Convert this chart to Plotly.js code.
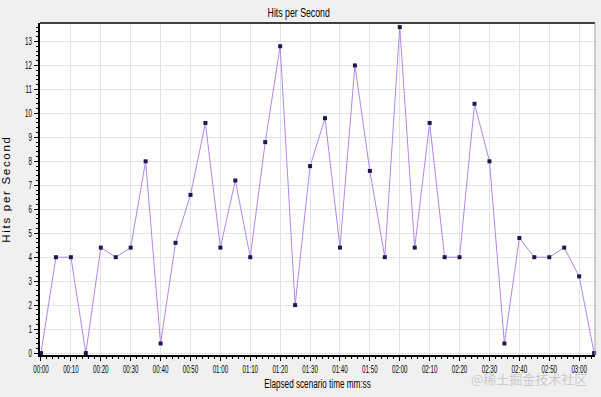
<!DOCTYPE html>
<html>
<head>
<meta charset="utf-8">
<script src="https://cdn.plot.ly/plotly-3.0.1.min.js"></script>
<style>
html,body{margin:0;padding:0;background:#f0f0f0;}
#chart{width:601px;height:397px;}
.ytitle{letter-spacing:1.7px;}
</style>
</head>
<body>
<div id="chart"></div>
<script>
// elapsed time in seconds
var elapsedSeconds = [0,5,10,15,20,25,30,35,40,45,50,55,60,65,70,75,80,85,90,95,100,105,110,115,120,125,130,135,140,145,150,155,160,165,170,175,180,185];
// hits per second
var hitsPerSecond = [0,4,4,0,4.4,4,4.4,8,0.4,4.6,6.6,9.6,4.4,7.2,4,8.8,12.8,2,7.8,9.8,4.4,12,7.6,4,13.6,4.4,9.6,4,4,10.4,8,0.4,4.8,4,4,4.4,3.2,0];
var tickSeconds = [0,10,20,30,40,50,60,70,80,90,100,110,120,130,140,150,160,170,180];
var tickLabels = ["00:00","00:10","00:20","00:30","00:40","00:50","01:00","01:10","01:20","01:30","01:40","01:50","02:00","02:10","02:20","02:30","02:40","02:50","03:00"];
var yTicks = [0,1,2,3,4,5,6,7,8,9,10,11,12,13];

var sansFont = '"Liberation Sans", Arial, sans-serif';

var trace = {
  x: elapsedSeconds,
  y: hitsPerSecond,
  type: 'scatter',
  mode: 'lines+markers',
  line: {color: '#b287e8', width: 1},
  marker: {symbol: 'square', size: 4, color: '#1c1a4a', line: {width: 0}},
  hoverinfo: 'x+y',
  cliponaxis: false
};

var layout = {
  width: 601,
  height: 397,
  margin: {l: 40, r: 6, t: 23, b: 42, pad: 0},
  paper_bgcolor: '#f0f0f0',
  plot_bgcolor: '#ffffff',
  showlegend: false,
  title: {
    text: 'Hits per Second',
    font: {family: sansFont, size: 12.5, color: '#000000'},
    x: 0.497, xref: 'container', xanchor: 'center',
    y: 0.968, yref: 'container', yanchor: 'middle'
  },
  xaxis: {
    range: [-0.33, 185.3],
    tickmode: 'array',
    tickvals: tickSeconds,
    ticktext: tickLabels,
    ticks: 'outside', ticklen: 4, tickcolor: '#000', tickwidth: 1,
    minor: {dtick: 2, tick0: 0, ticks: 'outside', ticklen: 2, tickcolor: '#000', showgrid: false},
    showgrid: true, gridcolor: '#dfe3ec', gridwidth: 1,
    zeroline: false,
    showline: true, linecolor: '#000', linewidth: 2, mirror: false,
    tickfont: {family: sansFont, size: 10, color: '#000'},
    title: {text: 'Elapsed scenario time mm:ss', font: {family: sansFont, size: 12, color: '#000'}, standoff: 6},
    fixedrange: true
  },
  yaxis: {
    range: [-0.08, 13.77],
    tickmode: 'array',
    tickvals: yTicks,
    ticks: 'outside', ticklen: 4, tickcolor: '#000', tickwidth: 1,
    minor: {dtick: 0.2, tick0: 0, ticks: 'outside', ticklen: 2, tickcolor: '#000', showgrid: false},
    showgrid: true, gridcolor: '#dfe3ec', gridwidth: 1,
    zeroline: false,
    showline: true, linecolor: '#000', linewidth: 2,
    tickfont: {family: sansFont, size: 10, color: '#000'},
    title: {text: 'Hits per Second', font: {family: sansFont, size: 11.5, color: '#000'}, standoff: 13},
    fixedrange: true
  },
  shapes: [
    {type: 'line', xref: 'paper', yref: 'paper', x0: 0, x1: 1, y0: 1, y1: 1, line: {color: '#000', width: 1.5}},
    {type: 'line', xref: 'paper', yref: 'paper', x0: 1, x1: 1, y0: 0, y1: 1, line: {color: '#a0a0a0', width: 1}}
  ],
  annotations: [
    {text: '@稀土掘金技术社区', xref: 'paper', yref: 'paper', x: 1, y: 0, xanchor: 'right', yanchor: 'top', yshift: -12, xshift: -6,
     showarrow: false, font: {family: '"Noto Sans CJK SC", sans-serif', size: 13, color: 'rgba(185,185,185,0.7)'}}
  ]
};

function condense(selector, factor) {
  var nodes = document.querySelectorAll(selector);
  nodes.forEach(function (t) {
    var w = t.getComputedTextLength();
    if (w > 0) {
      t.setAttribute('lengthAdjust', 'spacingAndGlyphs');
      t.setAttribute('textLength', (w * factor).toFixed(2));
    }
  });
}

Plotly.newPlot('chart', [trace], layout, {displayModeBar: false, staticPlot: true}).then(function () {
  condense('.xtick text', 0.62);
  condense('.ytick text', 0.62);
  condense('.gtitle', 0.7);
  condense('.g-xtitle text', 0.68);
});
</script>
</body>
</html>
